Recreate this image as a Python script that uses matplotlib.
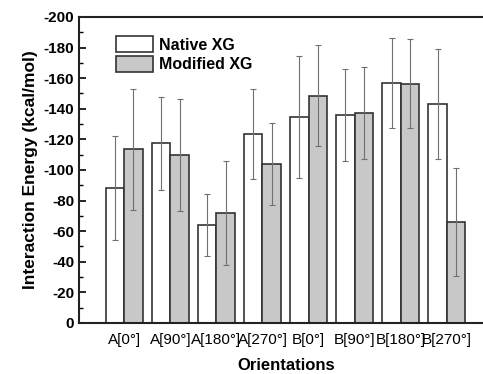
import numpy as np
import matplotlib
matplotlib.use("Agg")
import matplotlib.pyplot as plt
from matplotlib.ticker import MultipleLocator

plt.rcParams['font.family'] = ['Liberation Sans', 'DejaVu Sans']
plt.rcParams['axes.unicode_minus'] = False

# orientations and energies (kcal/mol)
labels = ['A[0°]', 'A[90°]', 'A[180°]', 'A[270°]', 'B[0°]', 'B[90°]', 'B[180°]', 'B[270°]']
native = [-88, -117.5, -64, -123.5, -134.5, -136, -157, -143]
native_err = [34, 30.5, 20.5, 29.5, 40, 30, 29.5, 36]
modified = [-113.5, -110, -72, -104, -148.5, -137.5, -156.5, -66]
modified_err = [39.5, 36.5, 34, 27, 33, 30, 29, 35.5]

x = np.arange(1, len(labels) + 1)
w = 0.4

fig = plt.figure(figsize=(4.83, 3.74), dpi=100)
ax = fig.add_axes([0.1636, 0.1364, 0.857, 0.8182])

ebar = dict(ecolor='#707070', elinewidth=0.8, capsize=2.5, capthick=0.8)
ax.bar(x - w / 2, native, w, color='white', edgecolor='#333333', linewidth=1.2,
       yerr=native_err, error_kw=ebar, label='Native XG')
ax.bar(x + w / 2, modified, w, color='#c8c8c8', edgecolor='#333333', linewidth=1.2,
       yerr=modified_err, error_kw=ebar, label='Modified XG')

ax.set_xlim(0.02, 9)
ax.set_ylim(0, -200)
ax.yaxis.set_major_locator(MultipleLocator(20))
ax.yaxis.set_minor_locator(MultipleLocator(10))
ax.tick_params(axis='y', which='major', direction='in', length=5, width=1.2, labelsize=11)
ax.tick_params(axis='y', which='minor', direction='in', length=3, width=1.0)
for t in ax.get_yticklabels():
    t.set_fontweight('bold')

ax.set_xticks(x)
ax.set_xticklabels(labels, fontsize=11)
ax.tick_params(axis='x', length=0, pad=7)

for s in ax.spines.values():
    s.set_linewidth(1.5)
    s.set_color('#222222')

ax.set_xlabel('Orientations', fontsize=12, fontweight='bold', labelpad=8)
ax.set_ylabel('Interaction Energy (kcal/mol)', fontsize=12.5, fontweight='bold', labelpad=4)

ax.legend(loc='upper left', bbox_to_anchor=(0.055, 0.985), frameon=False,
          prop={'weight': 'bold', 'size': 11.5}, handlelength=2.3, handleheight=1.2,
          labelspacing=0.2, handletextpad=0.4)

plt.savefig('out.png', dpi=100)
